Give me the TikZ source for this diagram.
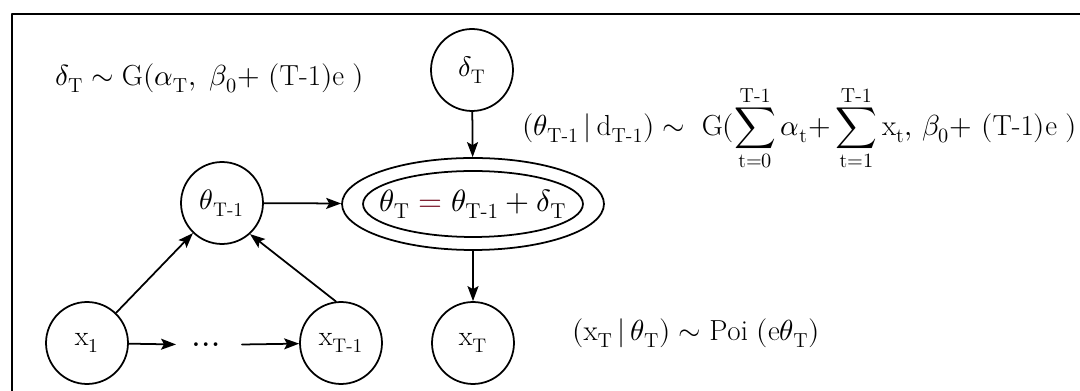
\documentclass[tikz,border=0pt]{standalone}
\usepackage{amsmath}
\usepackage{unicode-math}
\usetikzlibrary{arrows.meta,positioning,shapes.geometric}
\definecolor{eqred}{RGB}{120,20,40}
\tikzset{
    lab/.style={
        font=\fontsize{16.5}{19}\selectfont, anchor=west, inner sep=0pt
    }
}

\begin{document}
\begin{tikzpicture}[
  x=0.02cm, y=-0.02cm,
  line cap=round,
  line join=round,
  every node/.style={font=\fontsize{16}{18}\selectfont, align=center},
  arr/.style={draw=black, -{Stealth[length=3mm, width=2.2mm, inset=0.6mm]}, line width=1pt}
]
\useasboundingbox (0,0) rectangle (1080,391);

% ---------- node styles ----------
\tikzset{
  varNode/.style={circle, draw=black, line width=1pt, minimum size=1.64cm, inner sep=0pt},
  ellOuter/.style={ellipse, draw=black, line width=1pt, minimum width=5.24cm, minimum height=1.84cm, inner sep=0pt},
  ellInner/.style={ellipse, draw=black, line width=1pt, minimum width=4.4cm, minimum height=1.32cm, inner sep=0pt},
  dotsNode/.style={inner xsep=0.3cm, inner ysep=2pt, font=\fontsize{20}{22}\selectfont}
}

% ---------- frame ----------
\draw[line width=1.6pt] (1080,14) -- (12,14) -- (12,391);

% ---------- nodes ----------
\node[varNode] (dT) at (472,70) {$\delta_{\mathrm{T}}$};
\node[varNode] (thPrev) at (222,203) {$\theta_{\text{T-1}}$};
\node[ellOuter] (thT) at (473,204) {};
\node[ellInner] (thTin) at (thT.center) {};
\node[font=\fontsize{17.5}{20}\selectfont] (thTeq) at (thT.center)
  {$\theta_{\mathrm{T}} \mathrel{\color{eqred}=} \theta_{\text{T-1}} + \delta_{\mathrm{T}}$};
\node[varNode] (x1) at (87,343) {$\mathrm{x}_1$};
\node[dotsNode] (dots) at (209,345) {$\dots$};
\node[varNode] (xPrev) at (341,343) {$\mathrm{x}_{\text{T-1}}$};
\node[varNode] (xT) at (473,343) {$\mathrm{x}_{\mathrm{T}}$};

% ---------- labels ----------
\node[lab] (labDelta) at (55,78)
  {$\delta_{\mathrm{T}} \sim \mathrm{G}(\alpha_{\mathrm{T}},\ \beta_0{+}\ (\text{T-1})\mathrm{e}\ )$};
\node[lab] (labTheta) at (522,128)
  {$(\theta_{\text{T-1}}\,|\,\mathrm{d}_{\text{T-1}}) \sim\ \mathrm{G}(\displaystyle\sum_{\mathrm{t}=0}^{\text{T-1}}\alpha_{\mathrm{t}}{+}\sum_{\mathrm{t}=1}^{\text{T-1}}\mathrm{x}_{\mathrm{t}},\,\beta_0{+}\ (\text{T-1})\mathrm{e}\ )$};
\node[lab] (labX) at (572,333)
  {$(\mathrm{x}_{\mathrm{T}}\,|\,\theta_{\mathrm{T}}) \sim \mathrm{Poi}\ (\mathrm{e}\theta_{\mathrm{T}})$};

% ---------- edges ----------
\draw[arr] (dT) -- (thT);
\draw[arr] (thPrev) -- (thT);
\draw[arr] (thT) -- (xT);
\draw[arr] (x1) -- (thPrev);
\draw[arr] (xPrev.97) -- (thPrev.-48);
\draw[arr] (x1) -- (dots);
\draw[arr] (dots) -- (xPrev);

\end{tikzpicture}
\end{document}
